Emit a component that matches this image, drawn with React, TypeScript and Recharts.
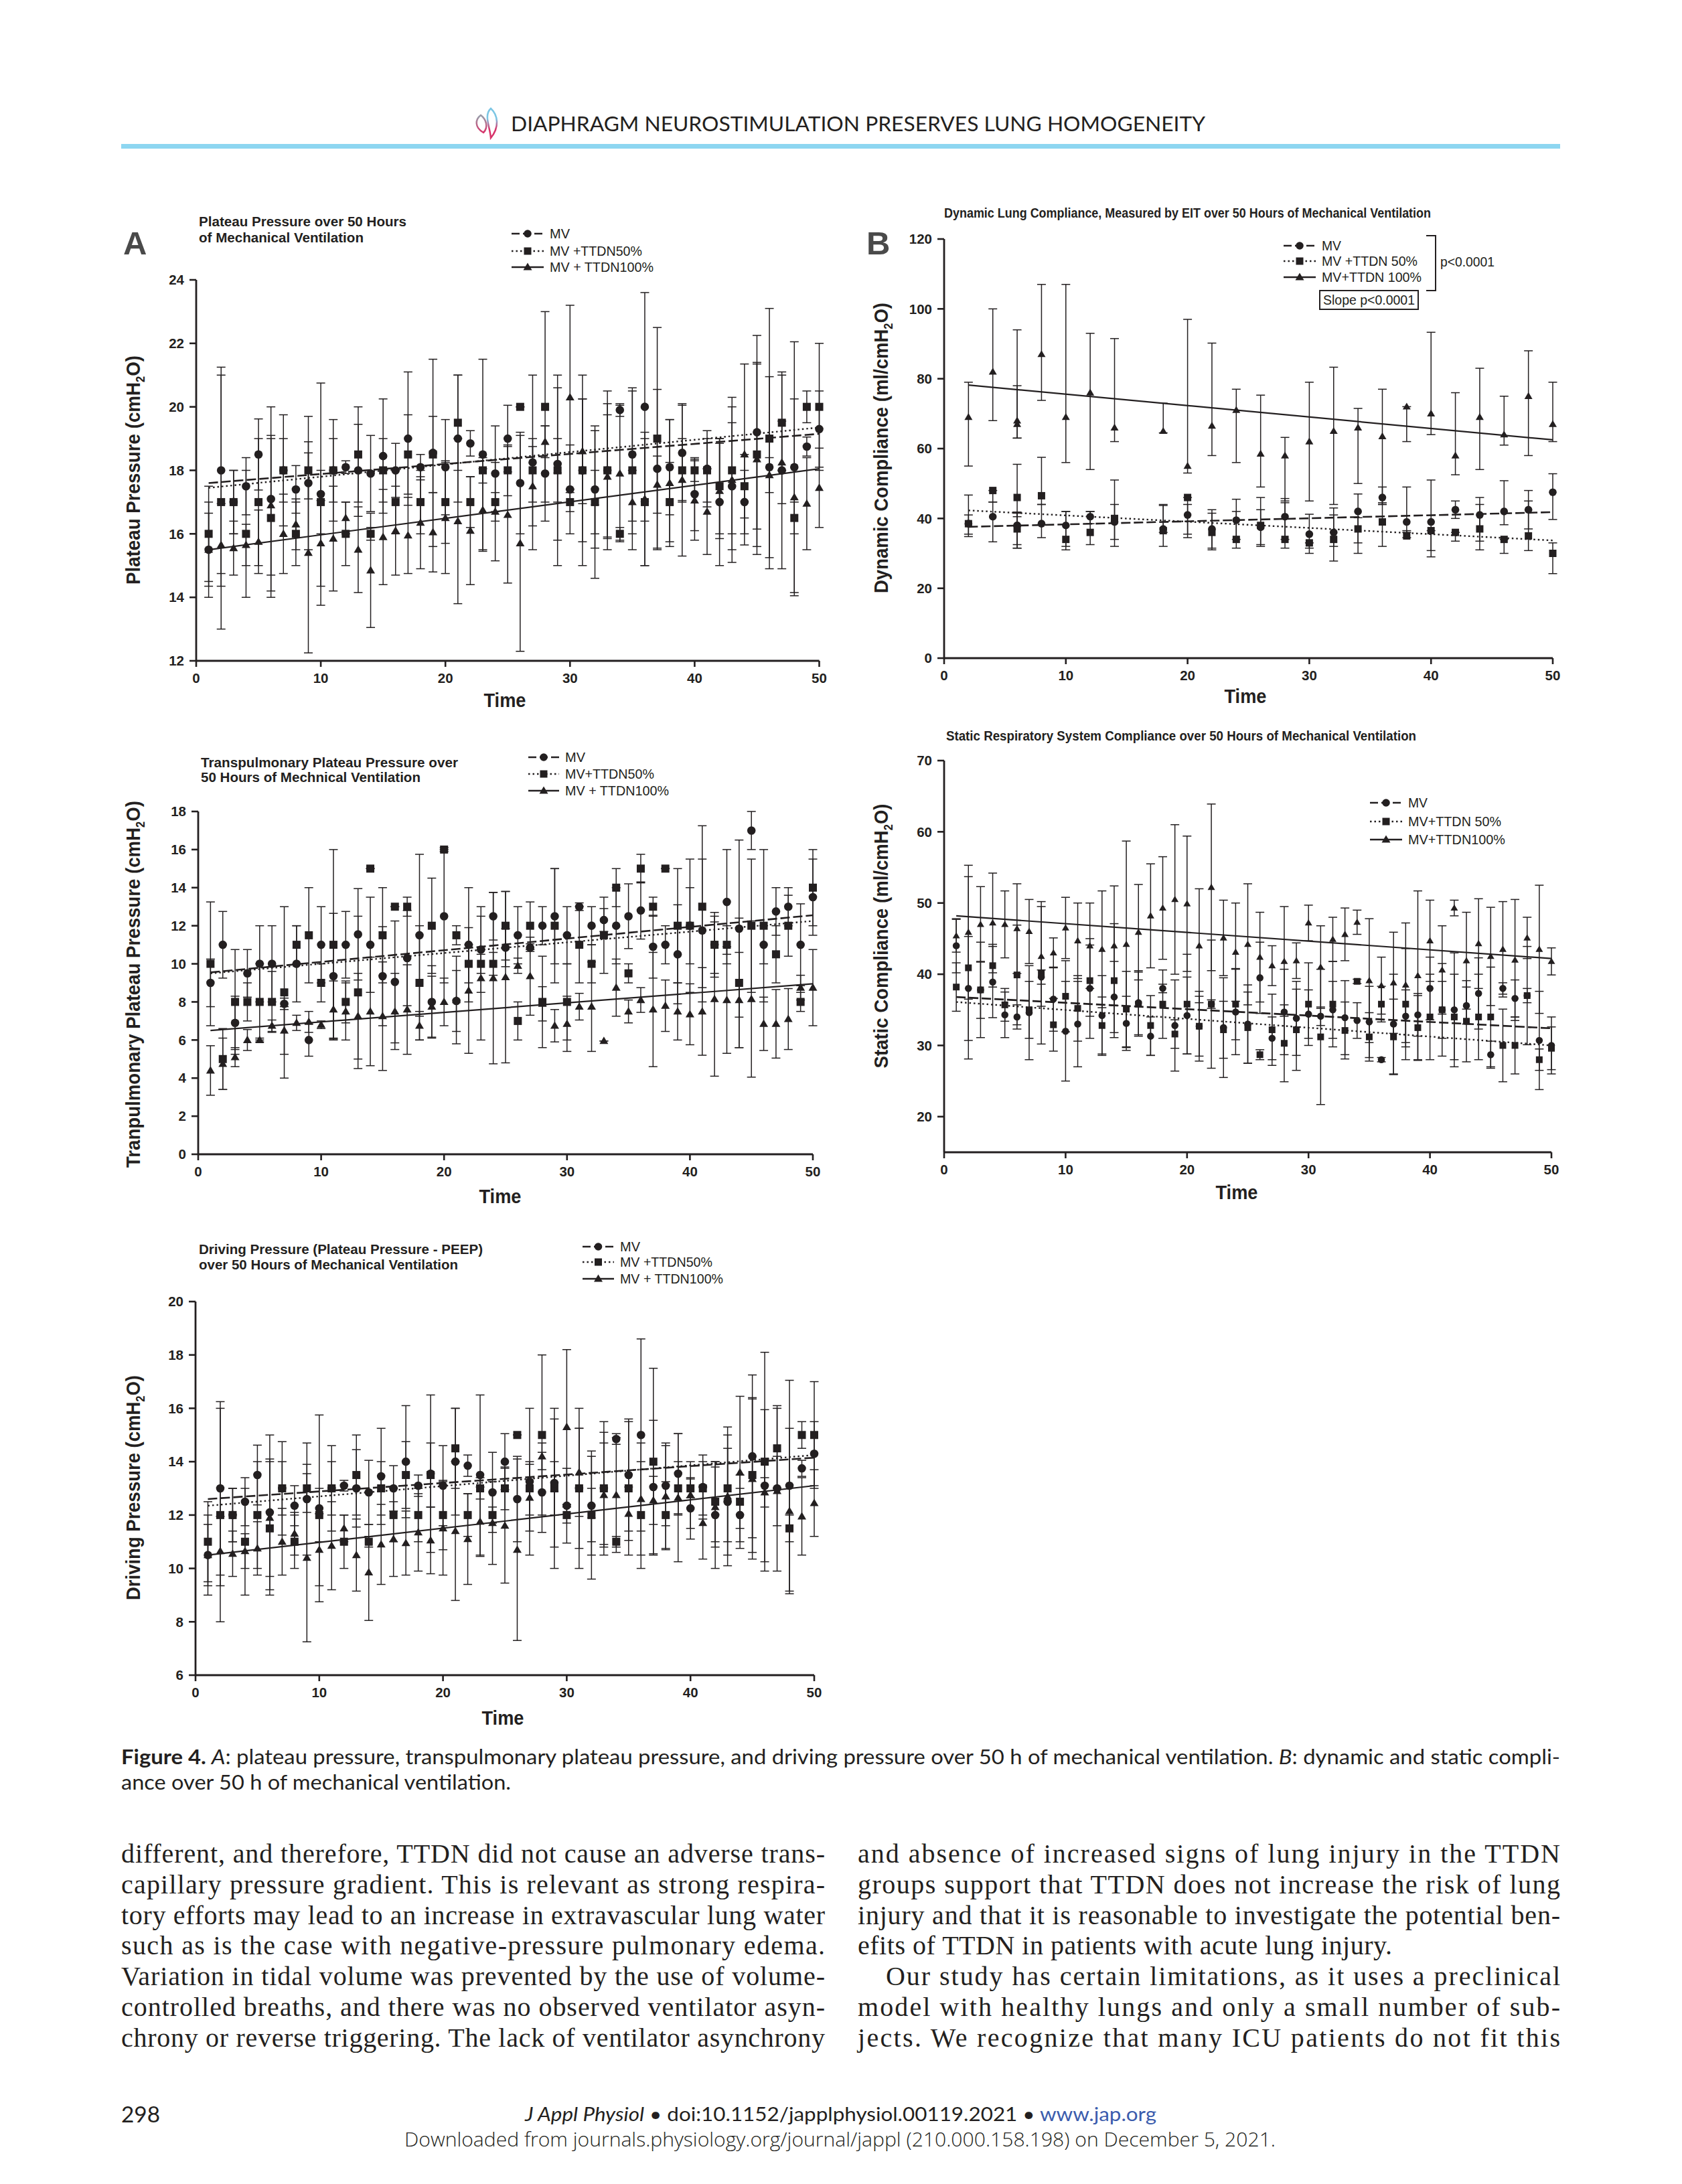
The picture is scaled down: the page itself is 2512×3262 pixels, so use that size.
import { ComposedChart, Line, ErrorBar, XAxis, YAxis } from "recharts";

const INK = "#231f20";
const ARIAL = "'Liberation Sans', Arial, sans-serif";
const SANS = "Lato, 'Open Sans', sans-serif";

const hours = [1,2,3,4,5,6,7,8,9,10,11,12,13,14,15,16,17,18,19,20,21,22,23,24,25,26,27,28,29,30,31,32,33,34,35,36,37,38,39,40,41,42,43,44,45,46,47,48,49,50];
const evenHours = [2,4,6,6,8,10,12,14,18,20,22,24,26,28,30,32,34,36,38,40,42,44,46,48,50];

// plateau pressure
const plateauMv = [15.5,18,17,17.5,18.5,17.1,18,17.4,17.6,17.25,18,18.1,18,17.9,18.45,18,19,18.1,18.55,18.1,19,18.85,18.5,17.9,19,17.6,18.25,17.9,18.2,17.4,18,17.4,18,19.9,18.5,20,18.05,18.1,18.55,17.25,18.05,17,17.5,17,19.2,18.1,18,18.1,18.75,19.3];
const plateau50 = [16,17,17,16,17,16.5,18,16,18,17,18,16,18.5,16,18,17,18.5,17,18.5,17,19.5,17,18,17,18,20,18,20,18,17,18,17,18,16,18,17,19,17,18,18,18,17.5,18,17.5,18.5,19,19.5,16.5,20,20];
const plateau100 = [15.5,15.65,15.55,15.65,15.75,16.9,16,16.3,15.4,15.7,15.85,16.5,15.5,14.85,15.9,16.1,15.95,16.35,16.05,16.5,16.4,16.1,16.75,16.7,16.6,15.7,17.5,18.9,18,20.3,18.6,17,17.8,17.9,17,17.1,17.55,17.6,17.7,17.05,16.7,17.35,17.7,18.5,18.35,17.85,18.25,17.15,16.95,17.45];
// same spread read for plateau and driving pressure, PEEP was fixed
const pressureSdMv = [1.15,3.25,1,.9,1.12,2.9,1.75,.75,2.1,3.5,1.6,.2,1.45,1.2,1.8,.85,2.1,.4,2.95,1.5,2,.4,3,1.5,1.05,1.6,2.75,1.5,2.4,1.4,2.25,1.85,2.1,.2,2.1,3.6,2.5,1.5,1.5,1.15,1.2,2,2,1,3.05,2.85,3.1,3.95,.3,1.2];
const pressureSd50 = [1.5,4,1,2,2,2.5,1,1,.9,1,1,1,1.5,.2,1,1,1.25,1,1.2,1.3,1.5,.8,.4,.3,.8,0,1,3,3,.3,3,2.4,2.5,.2,2.5,2,3.5,1.25,1,.35,1,1.5,2,1,2.9,4.1,1.5,.5,.5,2];
const pressureSd100 = [1.5,1.3,.85,.65,1,2.2,1.25,.8,3.15,1.35,1.65,.5,1.35,1.8,1.5,1.4,1.2,1.45,1.25,1.75,2.6,1.7,1.3,1.55,2.15,3.4,1.25,.5,1,2.9,1.65,1,1.95,2.15,1,2.1,.9,2,2.4,1.25,1.35,1.5,2.6,2.85,3,.55,1.3,3.1,1.45,1.25];

// driving pressure
const drivingMv = [10.5,13,12,12.5,13.5,12.1,13,12.35,12.6,12.25,13,13.1,13,12.85,13.45,13,14,13.1,13.55,13.1,14,13.85,13.5,12.85,14,12.6,13.25,12.85,13.2,12.35,13,12.35,13,14.85,13.5,15,13.05,13.1,13.55,12.25,13.05,12,12.5,12,14.2,13.1,13,13.1,13.75,14.3];
const driving50 = [11,12,12,11,12,11.5,13,11,13,12,13,11,13.5,11,13,12,13.5,12,13.5,12,14.5,12,13,12,13,15,13,15,13,12,13,12,13,11,13,12,14,12,13,13,13,12.5,13,12.5,13.5,14,14.5,11.5,15,15];
const driving100 = [10.5,10.65,10.55,10.65,10.75,11.9,11,11.3,10.4,10.7,10.85,11.5,10.5,9.85,10.9,11.1,10.95,11.35,11.05,11.5,11.4,11.1,11.75,11.7,11.6,10.7,12.65,14.2,13,15.3,13.6,12,12.75,12.75,12.05,12.6,12.55,12.7,12.65,12.75,11.7,12.3,12.7,13.6,13.35,12.85,12.9,12.15,11.95,12.45];

// transpulmonary plateau pressure
const transMv = [9,11,6.9,9.5,10,10,7.9,10,6,11,9.35,11,11.55,11,9.35,9.05,10.3,11.5,8,12.5,8.05,11,10.75,12.5,10.85,11.5,10.85,12,12.5,11.5,13,12,12.3,12,12.5,12.8,10.9,11,10.5,12,11.75,11,13.25,11.85,17,11,12.75,13,11,13.5];
const trans50 = [10,5,8,8,8,8,8.5,11,11.5,9,11,8,8.5,15,11.5,13,13,9,12,16,11.5,10,10,10,12,7,12,8,12,8,11,10,11.5,14,9.5,15,13,15,12,12,13,11,11,9,12,12,10.5,12,8,14];
const trans100 = [4.4,4.75,5.1,6,6,6.75,6.5,6.9,6.95,6.8,7.6,7.5,7.25,7.5,7.25,7.5,7.6,6.75,7.75,8,8.1,8.6,9.25,9.25,9.3,9.9,9.35,7.9,6.75,6.85,7.75,7.75,5.95,8.75,7.5,8.1,7.6,7.8,7.5,7.35,7.5,8.15,8.1,8.1,8.15,6.85,6.85,7.1,8.75,8.75];
const transSdMv = [1.25,1.75,1.4,1.25,2,2,.3,2,.85,2,3.3,1.75,2.4,2.5,2.6,3.2,2.5,4.25,1.9,3.5,1.6,3,2.25,1.25,1,1.5,.2,1,2.5,1.5,.2,1,.6,2,1.7,1.5,1.65,1,2.6,2,3.75,1.5,2.75,4.65,1,1,1.25,1,2.15,2];
const transSd50 = [3.25,1.6,2.75,1,2,1.6,4.5,1,2.5,1,5,1.1,4,0,2.5,0,.5,3,2.5,.1,.5,1,.5,.6,1.8,1,1.25,2.4,3,2,2,1,2,1,.5,.75,.5,0,3,3.5,4.25,1.7,1,3.4,3.5,4,1.5,1.6,.5,2];
const transSd100 = [1.3,1.35,.5,.55,.1,.3,1.25,.4,.55,.2,1.5,1.5,2.25,2.85,2.85,2,2.35,.75,1.6,1.25,2.3,3.3,3.25,4.5,4.5,.4,2.05,.9,.85,1.45,.7,2.35,0,1.5,.6,.65,3,1.35,1.5,1.6,2.3,4.05,2.8,2.5,4.1,1.4,1.8,1.6,.65,2];

// dynamic compliance, hour 6 has two rows
const dynMv = [38.5,40.5,38,38,38.5,38,40.5,39,37,41,37,39.5,37.5,40.5,35.5,36,42,46,39,39,42.5,41,42,42.5,47.5];
const dyn50 = [38.5,48,46,37,46.5,34,36,40,36.5,46,36,34,38,34,33,34,37,39,35,36.5,36,37,34,35,30];
const dyn100 = [69,82,68,67,87,69,76,66,65,55,66.5,71,58.5,58,62,65,66,63.5,72,70,58,69,64,75,67];
const dynMvLow = [35.5,33.3,31.5,31.5,34.5,31,38.5,34,36,34.5,31,31.5,32,31.5,30,32,33,44,36,30.8,40,33.5,38.2,37,39.7];
const dynMvHigh = [41,44.7,41.8,41.8,44,42,42,44,44,44,42.5,45.5,42.5,45.7,41.2,43,47,49,49,51,45,46,50.8,45,52.8];
const dyn50Low = [34.8,44.7,40.5,32.5,44,32,32.5,32,32,35.5,31.5,34,32.5,34,31.5,27.8,30,32,34.5,29,33.5,31,30,30.8,24.2];
const dyn50High = [46.7,48,55.5,41.5,57.5,42,42,51,43.7,46,41.5,42,46,44.5,33,41,40.2,44.5,36.5,36.5,36,44,34,48,33];
const dyn100Low = [55,68,63,63,73.8,56,54,62,64.5,53,58,56,49,45,45,44,50,44,62,64,52.5,54,61,58,62];
const dyn100High = [79,100,94,78,107,107,93,91.5,73,97,90.2,77,75.3,63.2,79,83.3,71.5,77,72,93.3,76,83,75,88,79];

// static compliance
const staticMv = [44,38,37.8,38.9,34.3,34,34.6,39.6,36.5,32,33,38,34.2,36.8,33.1,36,31.3,38,32.8,34.2,32.7,35.8,32.5,34.7,33,39.5,31,34.7,33.8,34.4,34.1,35,33.9,33.5,33.3,28,33,34.1,34.3,38,35,35,35.6,37.3,28.7,38,36.6,37,30.7,30];
const static50 = [38.2,40.9,37.8,41.2,35.7,39.9,35,40.2,32.9,36.9,35.2,39.1,32.8,39.1,35.1,35.8,32.8,35.8,31.6,35.8,32.7,35.8,32.2,35.8,32.5,28.7,32.2,30.3,32.2,35.8,31.2,35.8,32.1,39,31.2,35.8,31.2,35.8,32.5,34,35,34,33.4,34,34,30,30,37,28,29.6];
const static100 = [45.4,45.9,47,47.2,47,46.4,46,42.5,43,46.5,44.7,44,43.5,44,44.2,45.9,48.2,49.3,50.5,49.9,44,52.2,45.1,43.1,44.2,42.4,41.2,41.8,41.9,47.2,41,44.9,45.6,47.3,39.1,38.4,38.8,38.5,39.8,44.7,40.6,49.3,41.9,44.3,42.5,43.5,42,45.1,43.5,41.8];
const staticSdMv = [3.8,7.3,6.7,5,3.2,1.7,6.6,1,4.5,7,6,7,5.6,5,3.8,4.5,2.7,.6,6.4,5.4,4.9,.6,7,6,5.5,5,3,6,5.2,3.4,1.3,4,5.2,2.5,5,.3,7,3.7,3,4.4,4,8,2.6,5,1.9,.8,2.6,1,6.9,4];
const staticSd50 = [3.4,12.8,4,3,2.3,7,4,10,3.7,5,4.6,5,4,8,5.3,4.5,4.2,4.8,2,7,4.2,9,4,5,5,.7,5,5.4,5.7,5.8,9.5,6,4,.3,3.4,2.5,5.3,7.8,4.5,6,6.5,6,5.7,6,7,5.1,4,6.9,1.5,3];
const staticSd100 = [2.3,9.4,5.3,7,4.7,6.3,4.5,7,2.1,4.3,5.3,6,8.2,8.4,14.5,6.7,7.3,7.2,10.5,9.5,8,11.7,5.3,6.9,8.5,6.3,2.8,7.7,2.5,2.5,5.8,3.1,3.7,1.7,8.7,4,7.1,8.7,11.9,5.7,6.2,1.1,6.8,6.3,6.9,6.7,8.5,2.9,9,1.9];

// regression lines, first and last point
const plateauTrend = [[17.6,19.15],[17.45,19.35],[15.5,18.05]];
const dynTrend = [[37.6,41.8],[42.3,33.7],[78.2,62.5]];
const transTrend = [[9.55,12.55],[9.5,12.25],[6.5,8.95]];
const staticTrend = [[36.8,32.4],[36.1,30],[48.2,42.2]];
const drivingTrend = [[12.6,14.15],[12.35,14.25],[10.5,13.1]];

const timeTicks = [0,10,20,30,40,50];

const bothWays = (sd: number[]) => sd.map((v) => [v, v]);
const fromRange = (mid: number[], low: number[], high: number[]) =>
  mid.map((v, i) => [v - low[i], high[i] - v]);

function buildRows(t: number[], means: number[][], errs: number[][][], trends: number[][]) {
  return t.map((time, i) => {
    const row: any = { t: time };
    ["mv", "ttdn50", "ttdn100"].forEach((k, s) => {
      row[k] = means[s][i];
      row[k + "Err"] = errs[s][i];
      if (i === 0) row[k + "Fit"] = trends[s][0];
      if (i === t.length - 1) row[k + "Fit"] = trends[s][1];
    });
    return row;
  });
}

function CircleDot({ cx, cy, s = 12 }: any) {
  return <circle cx={cx} cy={cy} r={s / 2 + 0.3} fill={INK} />;
}
function SquareDot({ cx, cy, s = 12 }: any) {
  return <rect x={cx - s / 2} y={cy - s / 2} width={s} height={s} fill={INK} />;
}
function TriangleDot({ cx, cy, s = 12 }: any) {
  const h = s / 2 + 0.5;
  return <path d={`M${cx} ${cy - h}L${cx + h} ${cy + h * 0.7}L${cx - h} ${cy + h * 0.7}Z`} fill={INK} />;
}

const charts = [
  { id: "plateau", x0: 292.5, x50: 1223, yTop: 418, yBottom: 987, domain: [12, 24], ticks: [12,14,16,18,20,22,24], marker: 12,
    rows: buildRows(hours, [plateauMv, plateau50, plateau100], [bothWays(pressureSdMv), bothWays(pressureSd50), bothWays(pressureSd100)], plateauTrend) },
  { id: "dynamic", x0: 1410, x50: 2319, yTop: 357, yBottom: 983, domain: [0, 120], ticks: [0,20,40,60,80,100,120], marker: 11,
    rows: buildRows(evenHours, [dynMv, dyn50, dyn100], [fromRange(dynMv, dynMvLow, dynMvHigh), fromRange(dyn50, dyn50Low, dyn50High), fromRange(dyn100, dyn100Low, dyn100High)], dynTrend) },
  { id: "trans", x0: 296, x50: 1214, yTop: 1212, yBottom: 1724, domain: [0, 18], ticks: [0,2,4,6,8,10,12,14,16,18], marker: 12,
    rows: buildRows(hours, [transMv, trans50, trans100], [bothWays(transSdMv), bothWays(transSd50), bothWays(transSd100)], transTrend) },
  { id: "static", x0: 1410, x50: 2317, yTop: 1136, yBottom: 1721, domain: [15, 70], ticks: [20,30,40,50,60,70], marker: 10,
    rows: buildRows(hours, [staticMv, static50, static100], [bothWays(staticSdMv), bothWays(staticSd50), bothWays(staticSd100)], staticTrend) },
  { id: "driving", x0: 292, x50: 1216, yTop: 1944, yBottom: 2502, domain: [6, 20], ticks: [6,8,10,12,14,16,18,20], marker: 12,
    rows: buildRows(hours, [drivingMv, driving50, driving100], [bothWays(pressureSdMv), bothWays(pressureSd50), bothWays(pressureSd100)], drivingTrend) },
];

const Y_AXIS_W = 70;
const tickStyle = { fill: INK, fontFamily: ARIAL, fontWeight: "bold", fontSize: 20.5 };

function Panel({ c }: any) {
  const errProps = { direction: "y" as const, width: 6.5, strokeWidth: 1.5, stroke: INK };
  return (
    <div style={{ position: "absolute", left: c.x0 - Y_AXIS_W, top: c.yTop - 20 }}>
      <ComposedChart
        width={c.x50 - c.x0 + Y_AXIS_W + 30}
        height={c.yBottom - c.yTop + 70}
        data={c.rows}
        margin={{ top: 20, right: 30, left: 0, bottom: 0 }}
      >
        <XAxis
          dataKey="t"
          type="number"
          domain={[0, 50]}
          ticks={timeTicks}
          interval={0}
          height={50}
          tickSize={9}
          tickMargin={9}
          axisLine={{ stroke: INK, strokeWidth: 2.8 }}
          tickLine={{ stroke: INK, strokeWidth: 2.6 }}
          tick={tickStyle}
        />
        <YAxis
          type="number"
          domain={c.domain}
          ticks={c.ticks}
          interval={0}
          width={Y_AXIS_W}
          tickSize={10}
          tickMargin={8}
          axisLine={{ stroke: INK, strokeWidth: 2.8 }}
          tickLine={{ stroke: INK, strokeWidth: 2.6 }}
          tick={tickStyle}
        />
        <Line dataKey="ttdn100" stroke="none" isAnimationActive={false} dot={<TriangleDot s={c.marker} />} legendType="none">
          <ErrorBar dataKey="ttdn100Err" {...errProps} />
        </Line>
        <Line dataKey="ttdn50" stroke="none" isAnimationActive={false} dot={<SquareDot s={c.marker} />} legendType="none">
          <ErrorBar dataKey="ttdn50Err" {...errProps} />
        </Line>
        <Line dataKey="mv" stroke="none" isAnimationActive={false} dot={<CircleDot s={c.marker} />} legendType="none">
          <ErrorBar dataKey="mvErr" {...errProps} />
        </Line>
        <Line dataKey="mvFit" connectNulls dot={false} stroke={INK} strokeWidth={2.6} strokeDasharray="14 5" isAnimationActive={false} />
        <Line dataKey="ttdn50Fit" connectNulls dot={false} stroke={INK} strokeWidth={2.4} strokeDasharray="2.5 4" isAnimationActive={false} />
        <Line dataKey="ttdn100Fit" connectNulls dot={false} stroke={INK} strokeWidth={2.2} isAnimationActive={false} />
      </ComposedChart>
    </div>
  );
}

function LegendRow({ x, y, w, kind, label, textW }: any) {
  const mid = x + w / 2;
  const dash = kind === 0 ? "12 5" : kind === 1 ? "2.5 4" : undefined;
  return (
    <g>
      <line x1={x} x2={x + w} y1={y} y2={y} stroke={INK} strokeWidth={2.6} strokeDasharray={dash} />
      {kind === 0 && <CircleDot cx={mid} cy={y} s={11} />}
      {kind === 1 && <SquareDot cx={mid} cy={y} s={11} />}
      {kind === 2 && <TriangleDot cx={mid} cy={y} s={12} />}
      <text x={x + w + 9} y={y + 7} fontFamily={ARIAL} fontSize={21} fill={INK} textLength={textW} lengthAdjust="spacingAndGlyphs">{label}</text>
    </g>
  );
}

const legends = [
  { x: 764, w: 48, rows: [[349, "MV", 30], [375, "MV +TTDN50%", 138], [399, "MV + TTDN100%", 155]] },
  { x: 1917, w: 48, rows: [[367, "MV", 29], [390, "MV +TTDN 50%", 143], [414, "MV+TTDN 100%", 149]] },
  { x: 789, w: 46, rows: [[1131, "MV", 30], [1156, "MV+TTDN50%", 133], [1181, "MV + TTDN100%", 155]] },
  { x: 2046, w: 48, rows: [[1199, "MV", 29], [1227, "MV+TTDN 50%", 139], [1254, "MV+TTDN100%", 145]] },
  { x: 870, w: 47, rows: [[1862, "MV", 30], [1885, "MV +TTDN50%", 138], [1910, "MV + TTDN100%", 154]] },
];

const titles: any[] = [
  [297, 338, "Plateau Pressure over 50 Hours", 310],
  [297, 362, "of Mechanical Ventilation", 246],
  [1410, 325, "Dynamic Lung Compliance, Measured by EIT over 50 Hours of Mechanical Ventilation", 727],
  [300, 1146, "Transpulmonary Plateau Pressure over", 384],
  [300, 1168, "50 Hours of Mechnical Ventilation", 328],
  [1413, 1106, "Static Respiratory System Compliance over 50 Hours of Mechanical Ventilation", 702],
  [297, 1873, "Driving Pressure (Plateau Pressure - PEEP)", 424],
  [297, 1896, "over 50 Hours of Mechanical Ventilation", 387],
];

const yTitles: any[] = [
  [209, 702, "Plateau Pressure (cm", "H", 342],
  [1326, 669, "Dynamic Compliance (ml/cm", "H", 434],
  [209, 1470, "Tranpulmonary Plateau Pressure (cm", "H", 548],
  [1326, 1398, "Static Compliance (ml/cm", "H", 395],
  [209, 2222, "Driving Pressure (cm", "H", 336],
];
const timeTitles = [[754, 1056], [1860, 1050], [747, 1797], [1847, 1791], [751, 2576]];

const bodyLines: any[] = [
  [181, 0, "different, and therefore, TTDN did not cause an adverse trans-", 1051],
  [181, 1, "capillary pressure gradient. This is relevant as strong respira-", 1051],
  [181, 2, "tory efforts may lead to an increase in extravascular lung water", 1051],
  [181, 3, "such as is the case with negative-pressure pulmonary edema.", 1051],
  [181, 4, "Variation in tidal volume was prevented by the use of volume-", 1051],
  [181, 5, "controlled breaths, and there was no observed ventilator asyn-", 1051],
  [181, 6, "chrony or reverse triggering. The lack of ventilator asynchrony", 1051],
  [1281, 0, "and absence of increased signs of lung injury in the TTDN", 1049],
  [1281, 1, "groups support that TTDN does not increase the risk of lung", 1049],
  [1281, 2, "injury and that it is reasonable to investigate the potential ben-", 1049],
  [1281, 3, "efits of TTDN in patients with acute lung injury.", 798],
  [1323, 4, "Our study has certain limitations, as it uses a preclinical", 1007],
  [1281, 5, "model with healthy lungs and only a small number of sub-", 1049],
  [1281, 6, "jects. We recognize that many ICU patients do not fit this", 1049],
];

function PageText() {
  return (
    <svg width={2512} height={3262} style={{ position: "absolute", left: 0, top: 0 }}>
      <defs>
        <linearGradient id="logoOuter" x1="0" y1="0" x2="0" y2="1">
          <stop offset="0.35" stopColor="#7cc6e4" />
          <stop offset="0.7" stopColor="#d8336a" />
        </linearGradient>
        <linearGradient id="logoInner" x1="0" y1="0" x2="0" y2="1">
          <stop offset="0.1" stopColor="#9a9aa8" />
          <stop offset="1" stopColor="#d8336a" />
        </linearGradient>
      </defs>
      <path d="M733 162C744 172 746 190 733 206C732 190 722 172 733 162Z" fill="none" stroke="url(#logoOuter)" strokeWidth={2.5} />
      <path d="M718 172C710 178 708 190 722 198C730 190 726 178 718 172Z" fill="none" stroke="url(#logoInner)" strokeWidth={2.5} />
      <text x={763} y={196} fontFamily={SANS} fontSize={31} fill={INK} textLength={1037} lengthAdjust="spacingAndGlyphs">DIAPHRAGM NEUROSTIMULATION PRESERVES LUNG HOMOGENEITY</text>
      <rect x={181} y={215} width={2149} height={7} fill="#8dd6f1" />

      <text x={184} y={380} fontFamily={ARIAL} fontWeight="bold" fontSize={49} fill="#4a4a4a">A</text>
      <text x={1294} y={380} fontFamily={ARIAL} fontWeight="bold" fontSize={49} fill="#4a4a4a">B</text>

      {titles.map(([x, y, s, w]) => (
        <text key={s} x={x} y={y} fontFamily={ARIAL} fontWeight="bold" fontSize={20} fill={INK} textLength={w} lengthAdjust="spacingAndGlyphs">{s}</text>
      ))}

      {yTitles.map(([x, y, s, h, len]) => (
        <text key={s} transform={`translate(${x} ${y}) rotate(-90)`} textAnchor="middle" fontFamily={ARIAL} fontWeight="bold" fontSize={30} fill={INK} textLength={len} lengthAdjust="spacingAndGlyphs">
          {s}{h}<tspan fontSize={18} dy={7}>2</tspan><tspan dy={-7}>O)</tspan>
        </text>
      ))}
      {timeTitles.map(([x, y]) => (
        <text key={x + "-" + y} x={x} y={y} textAnchor="middle" fontFamily={ARIAL} fontWeight="bold" fontSize={29} fill={INK} textLength={63} lengthAdjust="spacingAndGlyphs">Time</text>
      ))}

      {legends.map((l) =>
        l.rows.map((r: any, i) => (
          <LegendRow key={l.x + "-" + i} x={l.x} w={l.w} y={r[0]} kind={i} label={r[1]} textW={r[2]} />
        ))
      )}
      <path d="M2130 352H2144V434H2130" fill="none" stroke={INK} strokeWidth={2} />
      <text x={2151} y={398} fontFamily={ARIAL} fontSize={21} fill={INK} textLength={81} lengthAdjust="spacingAndGlyphs">p&lt;0.0001</text>
      <rect x={1971} y={434} width={147} height={28} fill="none" stroke={INK} strokeWidth={2} />
      <text x={1976} y={455} fontFamily={ARIAL} fontSize={21} fill={INK} textLength={137} lengthAdjust="spacingAndGlyphs">Slope p&lt;0.0001</text>

      <text x={181} y={2635} fontFamily={SANS} fontSize={31} fill={INK} textLength={2149} lengthAdjust="spacingAndGlyphs">
        <tspan fontWeight="bold">Figure 4. </tspan><tspan fontStyle="italic">A</tspan>: plateau pressure, transpulmonary plateau pressure, and driving pressure over 50 h of mechanical ventilation. <tspan fontStyle="italic">B</tspan>: dynamic and static compli-
      </text>
      <text x={181} y={2673} fontFamily={SANS} fontSize={31} fill={INK} textLength={582} lengthAdjust="spacingAndGlyphs">ance over 50 h of mechanical ventilation.</text>

      {bodyLines.map(([x, n, s, w]) => (
        <text key={s} x={x} y={2782 + n * 45.8} fontFamily="'Liberation Serif', serif" fontSize={40} fill={INK} textLength={w} lengthAdjust="spacing">{s}</text>
      ))}

      <text x={181} y={3170} fontFamily={SANS} fontSize={32} fill={INK} textLength={58} lengthAdjust="spacingAndGlyphs">298</text>
      <text x={784} y={3168} fontFamily={SANS} fontSize={28} fill={INK} textLength={943} lengthAdjust="spacingAndGlyphs">
        <tspan fontStyle="italic">J Appl Physiol</tspan> • doi:10.1152/japplphysiol.00119.2021 • <tspan fill="#3b5cad">www.jap.org</tspan>
      </text>
      <text x={604} y={3206} fontFamily="'Open Sans', sans-serif" fontWeight={300} fontSize={29} fill={INK} textLength={1301} lengthAdjust="spacingAndGlyphs">Downloaded from journals.physiology.org/journal/jappl (210.000.158.198) on December 5, 2021.</text>
    </svg>
  );
}

export default function App() {
  return (
    <div style={{ position: "absolute", left: 0, top: 0, width: 2512, height: 3262, background: "#fff", overflow: "hidden" }}>
      <PageText />
      {charts.map((c) => (
        <Panel key={c.id} c={c} />
      ))}
    </div>
  );
}
